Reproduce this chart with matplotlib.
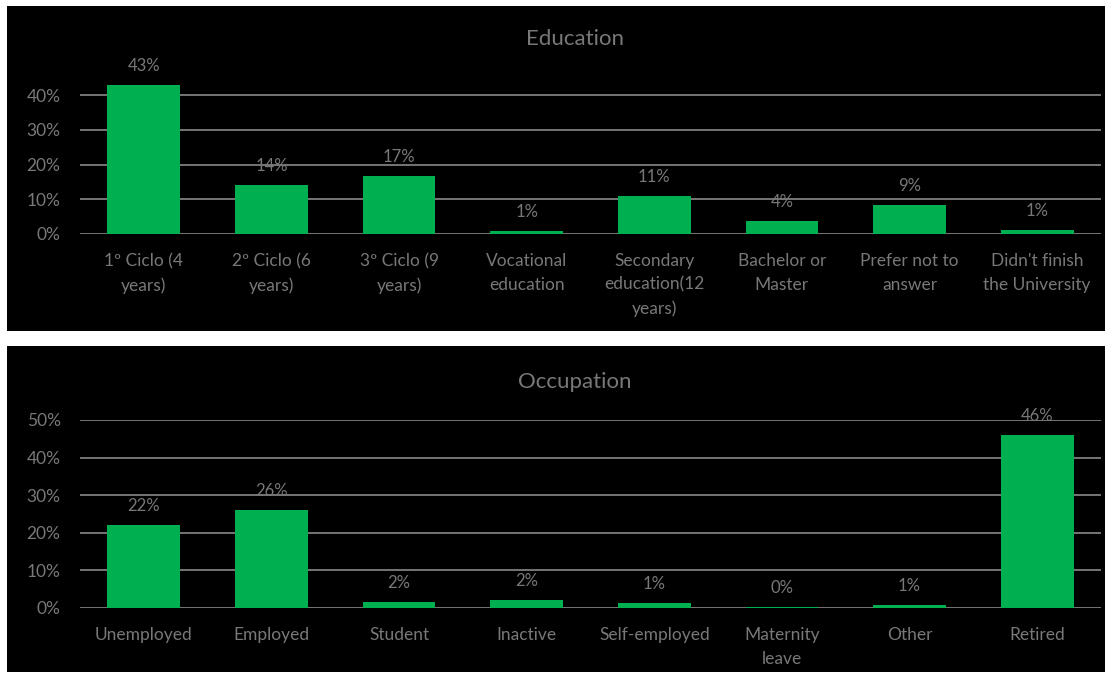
import matplotlib
matplotlib.use('agg')

import matplotlib.pyplot as plt
from matplotlib.ticker import PercentFormatter

plt.rcParams['font.family'] = ['Lato', 'DejaVu Sans']

# data (fractions)
edu_labels = ['1º Ciclo (4\nyears)', '2º Ciclo (6\nyears)', '3º Ciclo (9\nyears)',
              'Vocational\neducation', 'Secondary\neducation(12\nyears)',
              'Bachelor or\nMaster', 'Prefer not to\nanswer', "Didn't finish\nthe University"]
edu_values = [0.43, 0.14, 0.167, 0.008, 0.11, 0.036, 0.084, 0.012]
edu_text = ['43%', '14%', '17%', '1%', '11%', '4%', '9%', '1%']

occ_labels = ['Unemployed', 'Employed', 'Student', 'Inactive', 'Self-employed',
              'Maternity\nleave', 'Other', 'Retired']
occ_values = [0.222, 0.261, 0.016, 0.022, 0.013, 0.003, 0.007, 0.459]
occ_text = ['22%', '26%', '2%', '2%', '1%', '0%', '1%', '46%']

W, H = 1112, 677
GREEN = '#00B050'
TXT = '#787878'
GRID = '#8a8a8a'

fig = plt.figure(figsize=(W / 100, H / 100), dpi=100)
fig.patch.set_facecolor('white')


def px(x0, y0, x1, y1):
    # pixel box (top-left origin) -> figure fraction rect
    return [x0 / W, 1 - y1 / H, (x1 - x0) / W, (y1 - y0) / H]


def panel(y0, y1):
    bg = fig.add_axes(px(7, y0, 1105, y1), zorder=-5)
    bg.set_facecolor('black')
    bg.set_xticks([])
    bg.set_yticks([])
    for s in bg.spines.values():
        s.set_visible(False)


def bar_chart(rect, labels, values, texts, ymax, step, title, title_y):
    ax = fig.add_axes(rect)
    ax.set_facecolor('none')
    x = range(len(values))
    ax.bar(x, values, width=0.57, color=GREEN, zorder=3)
    for xi, v, t in zip(x, values, texts):
        ax.annotate(t, (xi, v), xytext=(0, 19), textcoords='offset pixels',
                    ha='center', va='center', color=TXT, fontsize=12,
                    annotation_clip=False)
    ax.set_xlim(-0.5, len(values) - 0.5)
    ax.set_ylim(0, ymax)
    ticks = [i * step for i in range(int(round(ymax / step)) + 1) if i * step <= ymax + 1e-9]
    ax.set_yticks(ticks)
    ax.yaxis.set_major_formatter(PercentFormatter(1.0, decimals=0))
    ax.set_xticks(list(x))
    ax.set_xticklabels(labels, linespacing=1.55)
    ax.grid(axis='y', color=GRID, linewidth=1.2, zorder=1)
    for s in ax.spines.values():
        s.set_visible(False)
    ax.tick_params(axis='both', length=0, colors=TXT, labelsize=12.5)
    ax.tick_params(axis='y', pad=14)
    ax.tick_params(axis='x', pad=14)
    fig.text(575 / W, 1 - title_y / H, title, ha='center', va='center',
             color=TXT, fontsize=16)
    return ax


panel(6, 331)
panel(346, 672)

bar_chart(px(80, 234 - 45 * 3.475, 1101, 234), edu_labels, edu_values, edu_text,
          0.45, 0.10, 'Education', 39)
bar_chart(px(80, 420, 1101, 608), occ_labels, occ_values, occ_text,
          0.50, 0.10, 'Occupation', 382)

fig.savefig('out.png', dpi=100, facecolor=fig.get_facecolor())
